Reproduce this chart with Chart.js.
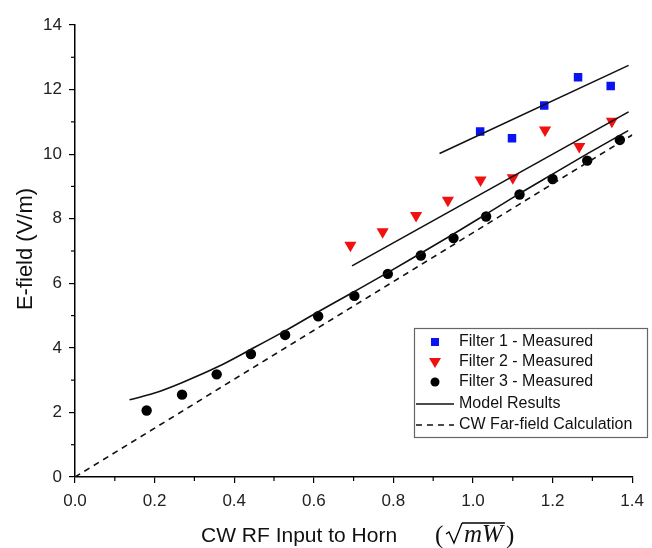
<!DOCTYPE html>
<html><head><meta charset="utf-8">
<script src="https://cdn.jsdelivr.net/npm/chart.js@4.4.0/dist/chart.umd.min.js"></script>
<style>html,body{margin:0;padding:0;background:#fff;}#wrap{width:652px;height:548px;}</style>
</head><body><div id="wrap"><canvas id="c" width="652" height="548"></canvas></div>
<script>
// ---- data ----
const filter1X = [1.018, 1.098, 1.179, 1.264, 1.346];
const filter1Y = [10.70, 10.49, 11.51, 12.38, 12.11];
const filter2X = [0.692, 0.773, 0.857, 0.937, 1.019, 1.100, 1.181, 1.267, 1.349];
const filter2Y = [7.18, 7.60, 8.10, 8.57, 9.20, 9.27, 10.75, 10.24, 11.02];
const filter3X = [0.180, 0.269, 0.356, 0.442, 0.528, 0.611, 0.702, 0.786, 0.869, 0.951, 1.033, 1.117, 1.200, 1.287, 1.369];
const filter3Y = [2.06, 2.55, 3.18, 3.81, 4.40, 4.98, 5.61, 6.29, 6.86, 7.40, 8.07, 8.75, 9.23, 9.80, 10.44];
const model3X = [0.137, 0.20, 0.27, 0.36, 0.44, 0.53, 0.61, 0.70, 0.79, 0.87, 0.95, 1.03, 1.12, 1.20, 1.29, 1.39];
const model3Y = [2.39, 2.60, 2.93, 3.42, 3.94, 4.54, 5.11, 5.73, 6.36, 6.94, 7.52, 8.12, 8.80, 9.38, 10.03, 10.73];
const model2X = [0.696, 1.391];
const model2Y = [6.54, 11.31];
const model1X = [0.916, 1.391];
const model1Y = [10.02, 12.75];
const farFieldX = [0.0, 1.401];
const farFieldY = [0.0, 10.60];
const xTicks = [0.0, 0.2, 0.4, 0.6, 0.8, 1.0, 1.2, 1.4];
const yTicks = [0, 2, 4, 6, 8, 10, 12, 14];
const legendLabels = ['Filter 1 - Measured', 'Filter 2 - Measured', 'Filter 3 - Measured', 'Model Results', 'CW Far-field Calculation'];

const pts = (xs, ys) => xs.map((x, i) => ({x: x, y: ys[i]}));
const FONT = '"Liberation Sans", Arial, sans-serif';

const datasets = [
  {label: legendLabels[3], data: pts(model3X, model3Y), showLine: true, borderColor: '#111', borderWidth: 1.6, pointRadius: 0, cubicInterpolationMode: 'monotone', fill: false},
  {label: legendLabels[3] + ' 2', data: pts(model2X, model2Y), showLine: true, borderColor: '#111', borderWidth: 1.6, pointRadius: 0, fill: false},
  {label: legendLabels[3] + ' 1', data: pts(model1X, model1Y), showLine: true, borderColor: '#111', borderWidth: 1.6, pointRadius: 0, fill: false},
  {label: legendLabels[4], data: pts(farFieldX, farFieldY), showLine: true, borderColor: '#111', borderWidth: 1.6, borderDash: [6, 5], pointRadius: 0, fill: false},
  {label: legendLabels[0], data: pts(filter1X, filter1Y), showLine: false, pointStyle: 'rect', pointRadius: 6, backgroundColor: '#0a14f0', borderColor: '#0a14f0', borderWidth: 0},
  {label: legendLabels[1], data: pts(filter2X, filter2Y), showLine: false, pointStyle: 'triangle', rotation: 180, pointRadius: 7, backgroundColor: '#f01010', borderColor: '#f01010', borderWidth: 0},
  {label: legendLabels[2], data: pts(filter3X, filter3Y), showLine: false, pointStyle: 'circle', pointRadius: 5.2, backgroundColor: '#000', borderColor: '#000', borderWidth: 0}
];

const extras = {
  id: 'extras',
  afterDraw(chart) {
    const ctx = chart.ctx, xs = chart.scales.x, ys = chart.scales.y;
    ctx.save();
    // minor ticks
    ctx.strokeStyle = '#000'; ctx.lineWidth = 1.2;
    for (let i = 0; i < yTicks.length - 1; i++) {
      const v = (yTicks[i] + yTicks[i + 1]) / 2, p = ys.getPixelForValue(v);
      ctx.beginPath(); ctx.moveTo(xs.left, p); ctx.lineTo(xs.left - 4, p); ctx.stroke();
    }
    for (let i = 0; i < xTicks.length - 1; i++) {
      const v = (xTicks[i] + xTicks[i + 1]) / 2, p = xs.getPixelForValue(v);
      ctx.beginPath(); ctx.moveTo(p, ys.bottom); ctx.lineTo(p, ys.bottom + 4); ctx.stroke();
    }
    // y title
    ctx.fillStyle = '#111';
    ctx.save();
    ctx.translate(26, 249); ctx.rotate(-Math.PI / 2);
    ctx.font = '22px ' + FONT; ctx.textAlign = 'center'; ctx.textBaseline = 'middle';
    ctx.fillText('E-field (V/m)', 0, 0);
    ctx.restore();
    // x title
    ctx.textAlign = 'left'; ctx.textBaseline = 'alphabetic';
    ctx.font = '21px ' + FONT;
    const by = 542;
    ctx.fillText('CW RF Input to Horn', 201, by);
    ctx.font = '25px "Liberation Serif", serif';
    ctx.fillText('(', 435, by + 1);
    // radical sign
    const rx = 446, top = by - 19;
    ctx.lineWidth = 1.3; ctx.lineJoin = 'miter';
    ctx.beginPath();
    ctx.moveTo(rx, by - 8); ctx.lineTo(rx + 3, by - 10); ctx.lineTo(rx + 8, by + 1); ctx.lineTo(rx + 16, top);
    ctx.stroke();
    ctx.font = 'italic 25px "Liberation Serif", serif';
    const mwW = ctx.measureText('mW').width;
    ctx.fillText('mW', rx + 18, by);
    ctx.beginPath(); ctx.moveTo(rx + 16, top); ctx.lineTo(rx + 20 + mwW, top); ctx.stroke();
    ctx.font = '25px "Liberation Serif", serif';
    ctx.fillText(')', rx + 21 + mwW, by + 1);
    // legend
    const L = 414, T = 328, R = 647, B = 437;
    ctx.fillStyle = '#fff'; ctx.fillRect(L, T, R - L, B - T);
    ctx.strokeStyle = '#666'; ctx.lineWidth = 1.2; ctx.strokeRect(L + 0.5, T + 0.5, R - L, B - T);
    const rows = [342, 362, 382, 404, 425];
    const mx = 435, tx = 459;
    ctx.font = '16px ' + FONT; ctx.fillStyle = '#111'; ctx.textBaseline = 'middle';
    legendLabels.forEach((t, i) => { ctx.fillStyle = '#111'; ctx.fillText(t, tx, rows[i]); });
    const d1 = chart.data.datasets[4], d2 = chart.data.datasets[5], d3 = chart.data.datasets[6];
    ctx.fillStyle = d1.backgroundColor; ctx.fillRect(mx - 4, rows[0] - 4, 8, 8);
    ctx.fillStyle = d2.backgroundColor; ctx.beginPath();
    ctx.moveTo(mx - 6, rows[1] - 4); ctx.lineTo(mx + 6, rows[1] - 4); ctx.lineTo(mx, rows[1] + 6); ctx.closePath(); ctx.fill();
    ctx.fillStyle = d3.backgroundColor; ctx.beginPath(); ctx.arc(mx, rows[2], 4.5, 0, Math.PI * 2); ctx.fill();
    ctx.strokeStyle = '#111'; ctx.lineWidth = 1.6;
    ctx.beginPath(); ctx.moveTo(416, rows[3]); ctx.lineTo(454, rows[3]); ctx.stroke();
    ctx.setLineDash([6, 5]);
    ctx.beginPath(); ctx.moveTo(416, rows[4]); ctx.lineTo(454, rows[4]); ctx.stroke();
    ctx.setLineDash([]);
    ctx.restore();
  }
};

new Chart(document.getElementById('c'), {
  type: 'scatter',
  data: {datasets: datasets},
  options: {
    responsive: false, animation: false, devicePixelRatio: 1,
    layout: {padding: {top: 25, right: 15, left: 0, bottom: 0}},
    plugins: {legend: {display: false}, tooltip: {enabled: false}},
    scales: {
      x: {
        type: 'linear', position: 'bottom', min: 0, max: 1.4,
        afterBuildTicks: s => { s.ticks = xTicks.map(v => ({value: v})); },
        afterFit: s => { s.height = 71; },
        ticks: {callback: v => Number(v).toFixed(1), font: {family: FONT, size: 17}, color: '#222', padding: 8, maxRotation: 0, autoSkip: false},
        grid: {drawOnChartArea: false, drawTicks: true, tickLength: 6, color: '#000', lineWidth: 1.2},
        border: {display: true, color: '#000', width: 1.5},
        title: {display: false}
      },
      y: {
        type: 'linear', position: 'left', min: 0, max: 14,
        afterBuildTicks: s => { s.ticks = yTicks.map(v => ({value: v})); },
        afterFit: s => { s.width = 75; },
        ticks: {callback: v => String(v), font: {family: FONT, size: 17}, color: '#222', padding: 7, autoSkip: false},
        grid: {drawOnChartArea: false, drawTicks: true, tickLength: 6, color: '#000', lineWidth: 1.2},
        border: {display: true, color: '#000', width: 1.5},
        title: {display: false}
      }
    }
  },
  plugins: [extras]
});
</script></body></html>
